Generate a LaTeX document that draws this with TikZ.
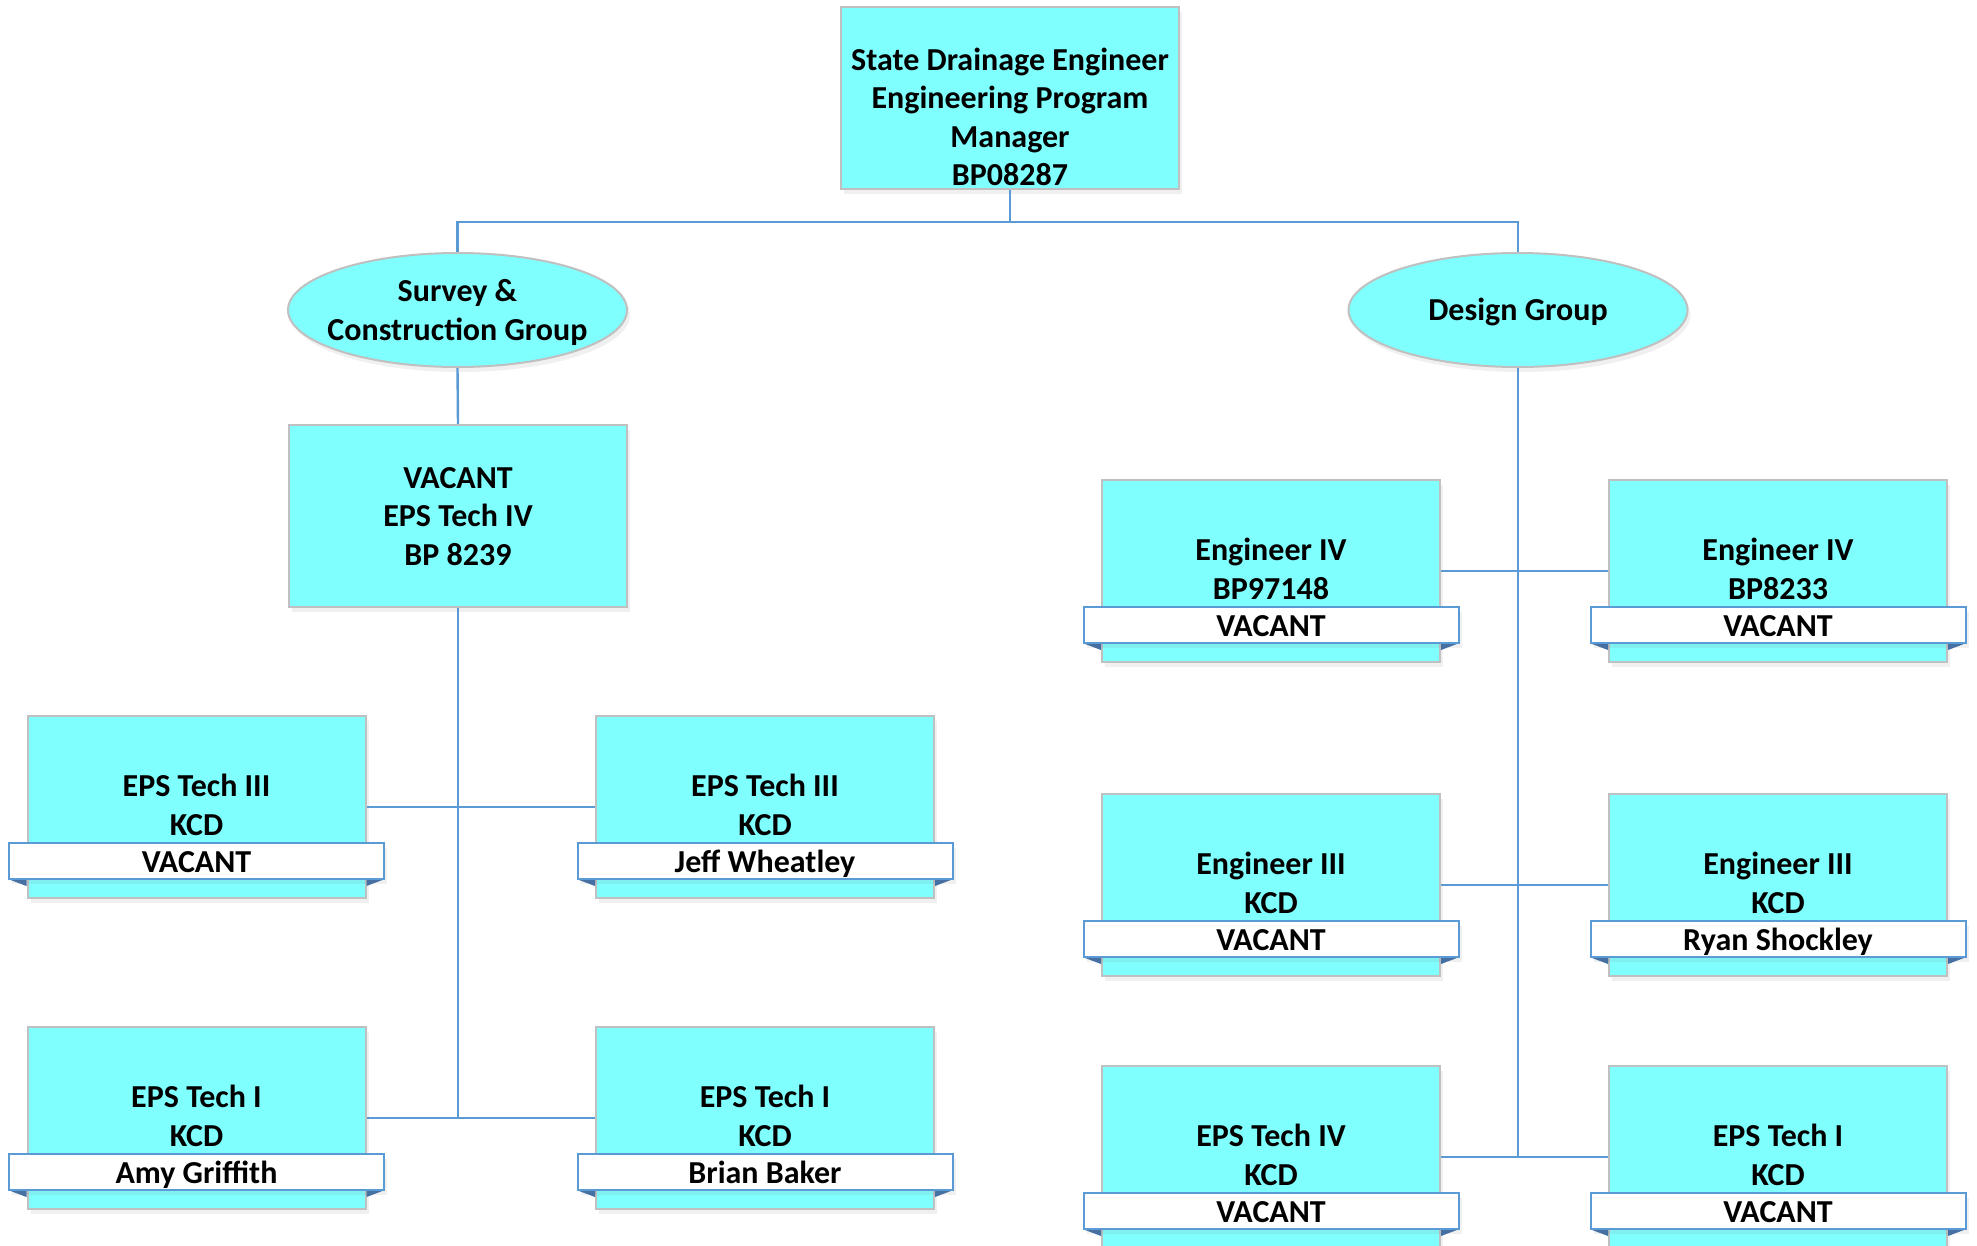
\documentclass[tikz,border=0pt]{standalone}
\usepackage{fontspec}
\setmainfont{Carlito}
\usetikzlibrary{shapes.geometric,calc,shadows}
\definecolor{boxfill}{HTML}{80FFFF}
\definecolor{boxline}{HTML}{C0C0C0}
\definecolor{connblue}{HTML}{5B9BD5}
\definecolor{folddark}{HTML}{3E6EA6}
\tikzset{
  lbl/.style={font=\fontsize{32}{38.5}\selectfont\bfseries, align=center, inner sep=0pt, text=black},
  shade/.style={drop shadow={opacity=0.12, shadow xshift=3pt, shadow yshift=-5pt}},
  posbox/.style={rectangle, fill=boxfill, draw=boxline, line width=2pt,
    minimum width=338pt, minimum height=182pt, inner sep=0pt, shade},
  groupoval/.style={ellipse, fill=boxfill, draw=boxline, line width=2pt,
    minimum width=339pt, minimum height=114pt, inner sep=0pt, shade},
  namebar/.style={rectangle, fill=white, draw=connblue, line width=2pt,
    minimum width=375pt, minimum height=36pt, inner sep=0pt},
  fold/.style={fill=folddark},
  conn/.style={draw=connblue, line width=2.4pt}
}
% position box with a name banner: name, centre x, top y, line 1, line 2, banner text
\newcommand\posnode[6]{%
  \node[posbox, anchor=north] (#1) at (#2,#3) {};
  \fill[fold] ($(#1.north west)+(-18.5,164)$) -- ($(#1.north west)+(0,164)$) -- ($(#1.north west)+(0,171)$) -- cycle;
  \fill[fold] ($(#1.north east)+(18.5,164)$) -- ($(#1.north east)+(0,164)$) -- ($(#1.north east)+(0,171)$) -- cycle;
  \node[lbl] (#1-title) at ($(#1.north)+(0,90)$) {#4\\#5};
  \node[namebar, shade] (#1-bar) at ($(#1.north)+(0,146)$) {};
  \node[lbl, anchor=base] (#1-name) at ($(#1.north)+(0,157.5)$) {#6};
}
\begin{document}
\begin{tikzpicture}[x=1pt,y=-1pt]
\useasboundingbox (0,0) rectangle (1977,1246);

% top of the chart
\node[posbox] (top) at (1010,98) {};
\node[lbl] (top-title) at (1010,117) {State Drainage Engineer\\Engineering Program\\Manager\\BP08287};

% groups
\node[groupoval] (surv) at (457.5,310) {};
\node[lbl] (surv-title) at (457.5,312.5) {Survey \&\\Construction Group};
\node[groupoval] (des) at (1518,310) {};
\node[lbl, anchor=base] (des-title) at (1518,320.5) {Design Group};

% survey & construction
\node[posbox] (vac) at (458,516) {};
\node[lbl] (vac-title) at (458,516.5) {VACANT\\EPS Tech IV\\BP 8239};

\posnode{t3l}{196.5}{715}{EPS Tech III}{KCD}{VACANT}
\posnode{t3r}{765}{715}{EPS Tech III}{KCD}{Jeff Wheatley}
\posnode{t1l}{196.5}{1026}{EPS Tech I}{KCD}{Amy Griffith}
\posnode{t1r}{765}{1026}{EPS Tech I}{KCD}{Brian Baker}

% design
\posnode{e4l}{1271}{479}{Engineer IV}{BP97148}{VACANT}
\posnode{e4r}{1778}{479}{Engineer IV}{BP8233}{VACANT}
\posnode{e3l}{1271}{793}{Engineer III}{KCD}{VACANT}
\posnode{e3r}{1778}{793}{Engineer III}{KCD}{Ryan Shockley}
\posnode{t4d}{1271}{1065}{EPS Tech IV}{KCD}{VACANT}
\posnode{t1d}{1778}{1065}{EPS Tech I}{KCD}{VACANT}

% connectors
\coordinate (bus) at (1010,222);
\draw[conn] (top.south) -- (bus);
\draw[conn] (surv.north) |- (bus) -| (des.north);
\draw[conn] (surv.south) -- (vac.north);
\draw[conn] (vac.south) -- (vac.south |- t1l.east);
\draw[conn] (t3l.east) -- (t3r.west);
\draw[conn] (t1l.east) -- (t1r.west);
\draw[conn] (des.south) -- (des.south |- t4d.east);
\draw[conn] (e4l.east) -- (e4r.west);
\draw[conn] (e3l.east) -- (e3r.west);
\draw[conn] (t4d.east) -- (t1d.west);
\end{tikzpicture}
\end{document}
